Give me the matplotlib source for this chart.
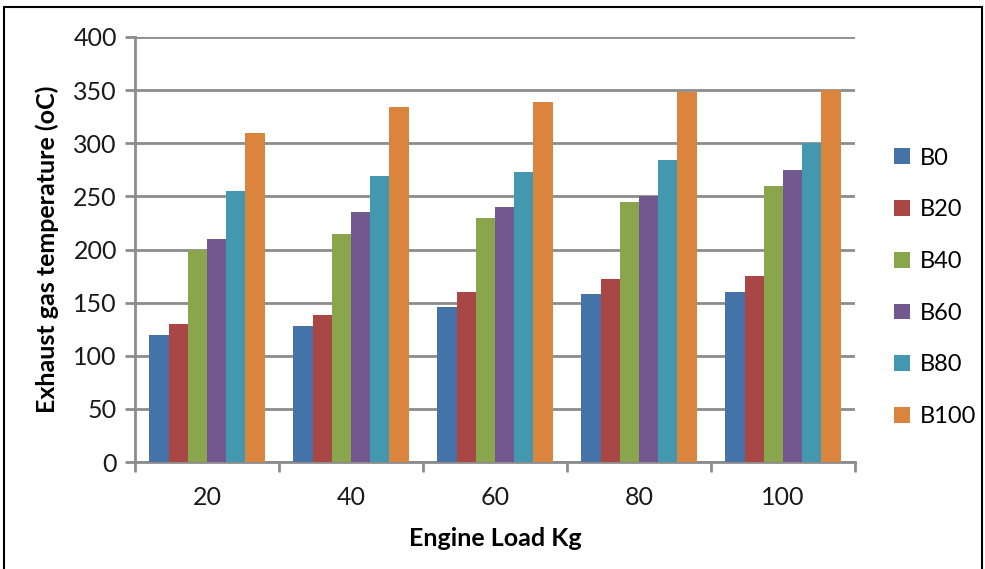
import matplotlib.pyplot as plt
import numpy as np
from matplotlib.patches import Rectangle

loads = ["20", "40", "60", "80", "100"]
blends = ["B0", "B20", "B40", "B60", "B80", "B100"]

b0 = [120, 128, 146, 158, 160]
b20 = [130, 138, 160, 172, 175]
b40 = [200, 215, 230, 245, 260]
b60 = [210, 235, 240, 250, 275]
b80 = [255, 269, 273, 284, 300]
b100 = [310, 334, 339, 348, 350]

colors = ["#4572A7", "#AA4643", "#89A54E", "#71588F", "#4198AF", "#DB843D"]

plt.rcParams['font.family'] = ['Lato', 'DejaVu Sans']

fig = plt.figure(figsize=(9.85, 5.69), dpi=100)
ax = fig.add_axes([0.137, 0.188, 0.731, 0.747])

series = [b0, b20, b40, b60, b80, b100]
x = np.arange(len(loads))
width = 0.8 / len(series)
for i, (vals, name) in enumerate(zip(series, blends)):
    offs = (i - (len(series) - 1) / 2) * width
    ax.bar(x + offs, vals, width, color=colors[i], label=name, zorder=3)

ax.set_xlim(-0.5, len(loads) - 0.5)
ax.set_ylim(0, 400)
ax.set_yticks(range(0, 401, 50))
ax.set_xticks(x)
ax.set_xticklabels(loads)
ax.set_xticks(np.arange(-0.5, len(loads), 1), minor=True)

grid_c = "#8c8c8c"
ax.yaxis.grid(True, color=grid_c, linewidth=2, zorder=0)
for s in ["top", "right"]:
    ax.spines[s].set_visible(False)
for s in ["left", "bottom"]:
    ax.spines[s].set_color(grid_c)
    ax.spines[s].set_linewidth(2)

fs = 18
ax.tick_params(axis="y", colors=grid_c, length=7, width=2, labelsize=fs, labelcolor="#1a1a1a", pad=6)
ax.tick_params(axis="x", which="major", length=0, labelsize=fs, labelcolor="#1a1a1a", pad=17)
ax.tick_params(axis="x", which="minor", length=7, width=2, colors=grid_c)

ax.set_ylabel("Exhaust gas temperature (oC)", fontsize=fs, fontweight="bold", labelpad=10)
ax.set_xlabel("Engine Load Kg", fontsize=fs, fontweight="bold", labelpad=13)

leg = fig.legend(loc="center left", bbox_to_anchor=(0.908, 0.495), frameon=False,
                 fontsize=17, handlelength=0.65, handleheight=0.65, labelspacing=1.3,
                 handletextpad=0.45, borderpad=0, borderaxespad=0)

fig.patches.append(Rectangle((4 / 985, -0.05), 978 / 985, 1.05 - 7 / 569,
                             transform=fig.transFigure, fill=False,
                             edgecolor="black", linewidth=1.5))

fig.savefig("out.png", dpi=100)
